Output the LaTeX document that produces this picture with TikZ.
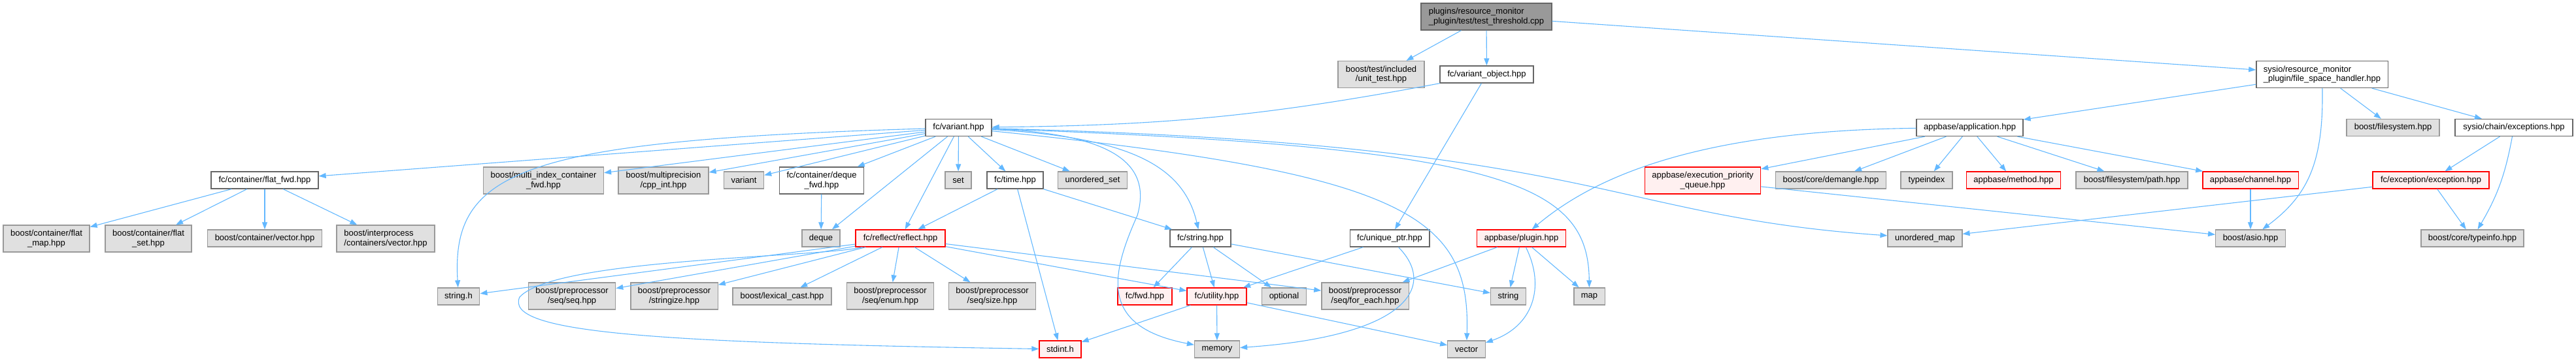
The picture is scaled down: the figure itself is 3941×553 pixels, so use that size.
\documentclass[tikz,border=0pt]{standalone}
\usepackage{fontspec}
\setmainfont{Liberation Sans}
\usetikzlibrary{arrows.meta}
\definecolor{EdgeBlue}{HTML}{63B8FF}
\definecolor{SysFill}{HTML}{E0E0E0}
\definecolor{SysLine}{HTML}{999999}
\definecolor{FileLine}{HTML}{666666}
\definecolor{TruncFill}{HTML}{FFF0F0}
\definecolor{RootFill}{HTML}{999999}

\begin{document}
\begin{tikzpicture}[
    x=1pt, y=-1pt,
    hdr/.style={line width=1.3pt,inner xsep=11pt,inner ysep=0pt,minimum height=26pt,
      font=\fontsize{13pt}{14.5pt}\selectfont,align=center},
    filebox/.style={hdr,draw=FileLine,fill=white},
    sysbox/.style={hdr,draw=SysLine,fill=SysFill},
    truncbox/.style={hdr,draw=red,fill=TruncFill},
    rootbox/.style={hdr,draw=FileLine,fill=RootFill},
    twoline/.style={minimum height=41pt},
    dep/.style={draw=EdgeBlue,line width=1.1pt,-{Triangle[length=11pt,width=8pt]}},
  ]
  \useasboundingbox (0,0) rectangle (3941,553);
  % the test source and what it includes directly
  \node[rootbox,twoline,align=left,minimum width=200pt] (root) at (2274,25.5) {plugins/resource\_monitor\\\_plugin/test/test\_threshold.cpp};
  \node[sysbox,twoline,minimum width=132pt] (unittest) at (2113,114) {boost/test/included\\/unit\_test.hpp};
  \node[filebox,minimum width=143pt] (varobj) at (2274.5,114) {fc/variant\_object.hpp};
  \node[filebox,twoline,align=left,minimum width=197pt] (fsh) at (3552.5,114) {sysio/resource\_monitor\\\_plugin/file\_space\_handler.hpp};
  % second level
  \node[filebox,minimum width=101pt] (variant) at (1466.5,195.5) {fc/variant.hpp};
  \node[filebox,minimum width=161pt] (app) at (3013.5,195.5) {appbase/application.hpp};
  \node[sysbox,minimum width=142pt] (bfs) at (3661,195.5) {boost/filesystem.hpp};
  \node[filebox,minimum width=180pt] (chainexc) at (3846,195.5) {sysio/chain/exceptions.hpp};
  % third level
  \node[filebox,minimum width=164pt] (flatfwd) at (405,276) {fc/container/flat\_fwd.hpp};
  \node[sysbox,twoline,minimum width=183pt] (mic) at (831.5,276.5) {boost/multi\_index\_container\\\_fwd.hpp};
  \node[sysbox,twoline,minimum width=138pt] (mp) at (1015,276.5) {boost/multiprecision\\/cpp\_int.hpp};
  \node[sysbox,minimum width=60pt] (stdvariant) at (1138,276) {variant};
  \node[filebox,twoline,minimum width=128pt] (dequefwd) at (1257,276.5) {fc/container/deque\\\_fwd.hpp};
  \node[sysbox,minimum width=40pt] (stdset) at (1466,276) {set};
  \node[filebox,minimum width=86pt] (fctime) at (1553,276) {fc/time.hpp};
  \node[sysbox,minimum width=103pt] (uset) at (1671.5,276) {unordered\_set};
  \node[truncbox,twoline,minimum width=176pt] (epq) at (2605,276.5) {appbase/execution\_priority\\\_queue.hpp};
  \node[sysbox,minimum width=168pt] (demangle) at (2801,276) {boost/core/demangle.hpp};
  \node[sysbox,minimum width=79pt] (typeindex) at (2947.5,276) {typeindex};
  \node[truncbox,minimum width=141pt] (method) at (3080.5,276) {appbase/method.hpp};
  \node[sysbox,minimum width=171pt] (fspath) at (3261.5,276) {boost/filesystem/path.hpp};
  \node[truncbox,minimum width=144pt] (channel) at (3443,276) {appbase/channel.hpp};
  \node[truncbox,minimum width=178pt] (fcexc) at (3719,276) {fc/exception/exception.hpp};
  % fourth level
  \node[sysbox,twoline,minimum width=132pt] (flatmap) at (71,365.5) {boost/container/flat\\\_map.hpp};
  \node[sysbox,twoline,minimum width=132pt] (flatset) at (227,365.5) {boost/container/flat\\\_set.hpp};
  \node[sysbox,minimum width=174pt] (cvector) at (405,365) {boost/container/vector.hpp};
  \node[sysbox,twoline,align=left,minimum width=150pt] (ipvector) at (590,365.5) {boost/interprocess\\/containers/vector.hpp};
  \node[sysbox,minimum width=56pt] (deque) at (1256,365) {deque};
  \node[truncbox,minimum width=137pt] (reflect) at (1377.5,365) {fc/reflect/reflect.hpp};
  \node[filebox,minimum width=93pt] (fcstring) at (1836.5,365) {fc/string.hpp};
  \node[filebox,minimum width=120pt] (uniqueptr) at (2126,365) {fc/unique\_ptr.hpp};
  \node[truncbox,minimum width=133pt] (plugin) at (2327.5,365) {appbase/plugin.hpp};
  \node[sysbox,minimum width=110pt] (umap) at (2945,365) {unordered\_map};
  \node[sysbox,minimum width=106pt] (asio) at (3443,365) {boost/asio.hpp};
  \node[sysbox,minimum width=157pt] (typeinfo) at (3782.5,365) {boost/core/typeinfo.hpp};
  % fifth level
  \node[sysbox,minimum width=63pt] (stringh) at (701.5,454) {string.h};
  \node[sysbox,twoline,minimum width=132pt] (seqseq) at (875,453.5) {boost/preprocessor\\/seq/seq.hpp};
  \node[sysbox,twoline,minimum width=133pt] (stringize) at (1031.5,453.5) {boost/preprocessor\\/stringize.hpp};
  \node[sysbox,minimum width=151pt] (lexcast) at (1196.5,454) {boost/lexical\_cast.hpp};
  \node[sysbox,twoline,minimum width=132pt] (seqenum) at (1362,453.5) {boost/preprocessor\\/seq/enum.hpp};
  \node[sysbox,twoline,minimum width=132pt] (seqsize) at (1518,453.5) {boost/preprocessor\\/seq/size.hpp};
  \node[truncbox,minimum width=83pt] (fcfwd) at (1751.5,454) {fc/fwd.hpp};
  \node[truncbox,minimum width=91pt] (utility) at (1861.5,454) {fc/utility.hpp};
  \node[sysbox,minimum width=67pt] (optional) at (1964.5,454) {optional};
  \node[sysbox,twoline,minimum width=133pt] (foreach) at (2088.5,453.5) {boost/preprocessor\\/seq/for\_each.hpp};
  \node[sysbox,minimum width=53pt] (stdstring) at (2307.5,454) {string};
  \node[sysbox,minimum width=47pt] (stdmap) at (2431.5,454) {map};
  % bottom level
  \node[truncbox,minimum width=64pt] (stdint) at (1622,535) {stdint.h};
  \node[sysbox,minimum width=68pt] (memory) at (1862,535) {memory};
  \node[sysbox,minimum width=57pt] (stdvector) at (2243.5,535) {vector};

  % includes of the test file
  \draw[dep] (root) -- (unittest);
  \draw[dep] (root) -- (varobj);
  \draw[dep] (root) -- (fsh);
  % fc/variant_object.hpp
  \draw[dep] (varobj) to[bend left=5] (variant);
  \draw[dep] (varobj) -- (uniqueptr);
  % file_space_handler.hpp
  \draw[dep] (fsh) -- (app);
  \draw[dep] (fsh) -- (bfs);
  \draw[dep] (fsh) -- (chainexc);
  \draw[dep] (fsh) .. controls (3555,250) and (3530,300) .. (asio);
  % fc/variant.hpp
  \draw[dep] (variant) .. controls (800,215) and (690,260) .. (stringh);
  \draw[dep] (variant) -- (flatfwd);
  \draw[dep] (variant) -- (mic);
  \draw[dep] (variant) -- (mp);
  \draw[dep] (variant) -- (stdvariant);
  \draw[dep] (variant) -- (dequefwd);
  \draw[dep] (variant) -- (deque);
  \draw[dep] (variant) -- (reflect);
  \draw[dep] (variant) -- (stdset);
  \draw[dep] (variant) -- (fctime);
  \draw[dep] (variant) -- (uset);
  \draw[dep] (variant) .. controls (1720,210) and (1810,250) .. (fcstring);
  \draw[dep] (variant) .. controls (1720,205) and (1760,260) .. (1740,330) .. controls (1700,420) and (1680,500) .. (memory);
  \draw[dep] (variant) .. controls (2150,265) and (2250,330) .. (stdvector);
  \draw[dep] (variant) .. controls (2300,225) and (2430,280) .. (stdmap);
  \draw[dep] (variant) .. controls (2450,220) and (2450,330) .. (umap);
  % fc/container/*
  \draw[dep] (flatfwd) -- (flatmap);
  \draw[dep] (flatfwd) -- (flatset);
  \draw[dep] (flatfwd) -- (cvector);
  \draw[dep] (flatfwd) -- (ipvector);
  \draw[dep] (dequefwd) -- (deque);
  % fc/time.hpp
  \draw[dep] (fctime) -- (reflect);
  \draw[dep] (fctime) -- (stdint);
  \draw[dep] (fctime) -- (fcstring);
  % fc/reflect/reflect.hpp
  \draw[dep] (reflect) -- (stringh);
  \draw[dep] (reflect) .. controls (1250,395) and (850,395) .. (795,455) .. controls (770,510) and (1000,525) .. (stdint);
  \draw[dep] (reflect) -- (seqseq);
  \draw[dep] (reflect) -- (stringize);
  \draw[dep] (reflect) -- (lexcast);
  \draw[dep] (reflect) -- (seqenum);
  \draw[dep] (reflect) -- (seqsize);
  \draw[dep] (reflect) -- (utility);
  \draw[dep] (reflect) -- (foreach);
  % fc/string.hpp
  \draw[dep] (fcstring) -- (fcfwd);
  \draw[dep] (fcstring) -- (utility);
  \draw[dep] (fcstring) -- (optional);
  \draw[dep] (fcstring) -- (stdstring);
  % fc/unique_ptr.hpp and fc/utility.hpp
  \draw[dep] (uniqueptr) -- (utility);
  \draw[dep] (uniqueptr) .. controls (2200,440) and (2150,515) .. (memory);
  \draw[dep] (utility) -- (stdint);
  \draw[dep] (utility) -- (memory);
  \draw[dep] (utility) -- (stdvector);
  % appbase/application.hpp
  \draw[dep] (app) .. controls (2600,200) and (2440,270) .. (plugin);
  \draw[dep] (app) -- (epq);
  \draw[dep] (app) -- (demangle);
  \draw[dep] (app) -- (typeindex);
  \draw[dep] (app) -- (method);
  \draw[dep] (app) -- (fspath);
  \draw[dep] (app) -- (channel);
  % appbase/plugin.hpp
  \draw[dep] (plugin) -- (foreach);
  \draw[dep] (plugin) -- (stdstring);
  \draw[dep] (plugin) -- (stdmap);
  \draw[dep] (plugin) .. controls (2365,440) and (2345,500) .. (stdvector);
  % the rest
  \draw[dep] (epq) -- (asio);
  \draw[dep] (channel) -- (asio);
  \draw[dep] (chainexc) -- (fcexc);
  \draw[dep] (chainexc) to[bend left=10] (typeinfo);
  \draw[dep] (fcexc) -- (umap);
  \draw[dep] (fcexc) -- (typeinfo);
\end{tikzpicture}
\end{document}
